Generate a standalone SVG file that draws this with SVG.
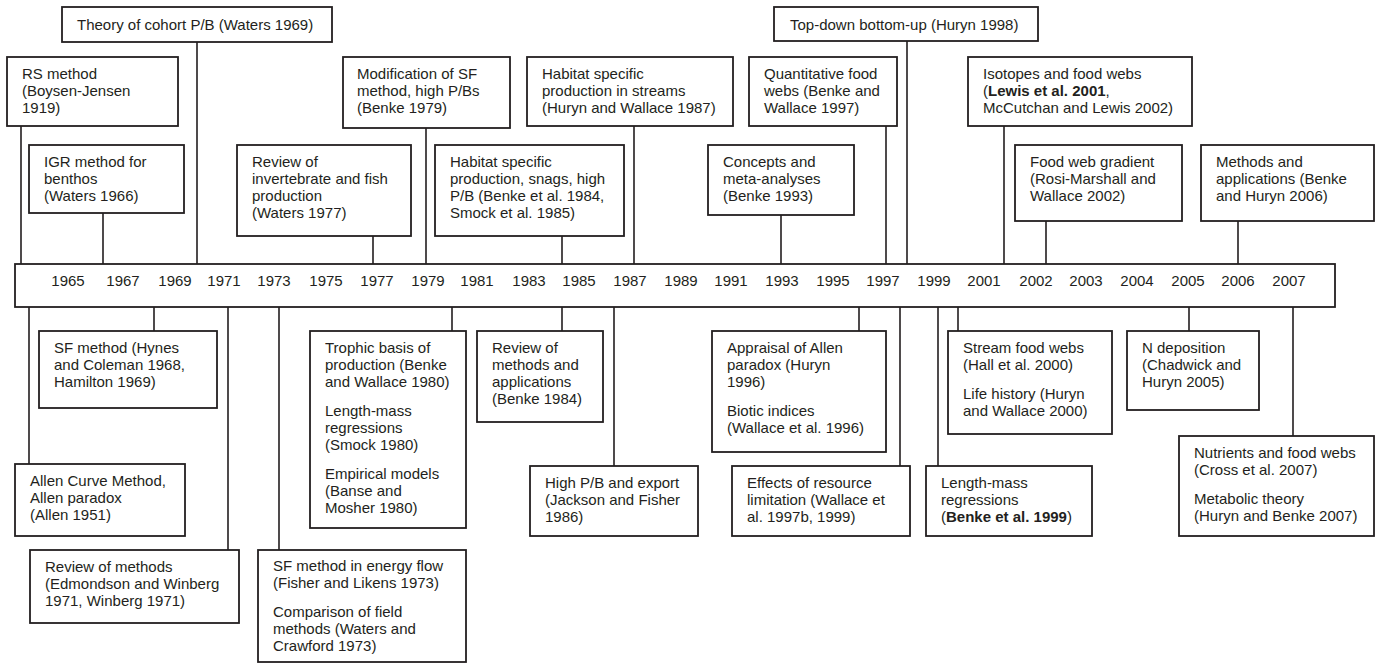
<svg xmlns="http://www.w3.org/2000/svg" width="1378" height="664" viewBox="0 0 1378 664">
<style>
.box{fill:#fff;stroke:#231f20;stroke-width:1.8}
.t{font-family:"Liberation Sans",Arial,Helvetica,sans-serif;font-size:15px;fill:#231f20}
.y{text-anchor:middle}
.b{font-weight:bold}
.c{stroke:#231f20;stroke-width:1.6;fill:none}
</style>
<rect width="1378" height="664" fill="#fff"/>
<g id="connectors">
<path class="c" d="M197 42V264 M21 126V264 M103 213V264 M373 236V264 M426 128V264 M562 236V264 M634 126V264 M886 126V264 M781 215V264 M907 41V264 M1004 126V264 M1046 221V264 M1238 221V264"/>
<path class="c" d="M154 307V331 M29 307V464 M228 307V550 M279 307V550 M452 307V331 M562 307V331 M614 307V466 M859 307V331 M900 307V466 M938 307V466 M958 307V331 M1189 307V331 M1293 307V436"/>
</g>
<g id="timeline">
<rect class="box" x="15" y="264" width="1320" height="43"/>
<g class="t y">
<text x="68" y="286">1965</text><text x="123" y="286">1967</text><text x="175" y="286">1969</text><text x="224" y="286">1971</text><text x="274" y="286">1973</text><text x="326" y="286">1975</text><text x="377" y="286">1977</text><text x="428" y="286">1979</text><text x="477" y="286">1981</text><text x="529" y="286">1983</text><text x="579" y="286">1985</text><text x="630" y="286">1987</text><text x="681" y="286">1989</text><text x="731" y="286">1991</text><text x="782" y="286">1993</text><text x="833" y="286">1995</text><text x="883" y="286">1997</text><text x="934" y="286">1999</text><text x="984" y="286">2001</text><text x="1036" y="286">2002</text><text x="1086" y="286">2003</text><text x="1137" y="286">2004</text><text x="1188" y="286">2005</text><text x="1238" y="286">2006</text><text x="1289" y="286">2007</text>
</g>
</g>
<g id="theory"><rect class="box" x="62" y="7" width="270" height="35"/><text class="t" x="77" y="30">Theory of cohort P/B (Waters 1969)</text></g>
<g id="rs"><rect class="box" x="7" y="57" width="171" height="69"/><text class="t" x="22" y="79">RS method</text><text class="t" x="22" y="96">(Boysen-Jensen</text><text class="t" x="22" y="113">1919)</text></g>
<g id="igr"><rect class="box" x="29" y="145" width="155" height="68"/><text class="t" x="44" y="167">IGR method for</text><text class="t" x="44" y="184">benthos</text><text class="t" x="44" y="201">(Waters 1966)</text></g>
<g id="review-inv"><rect class="box" x="237" y="145" width="174" height="91"/><text class="t" x="252" y="167">Review of</text><text class="t" x="252" y="184">invertebrate and fish</text><text class="t" x="252" y="201">production</text><text class="t" x="252" y="218">(Waters 1977)</text></g>
<g id="modification"><rect class="box" x="343" y="57" width="167" height="71"/><text class="t" x="357" y="79">Modification of SF</text><text class="t" x="357" y="96">method, high P/Bs</text><text class="t" x="357" y="113">(Benke 1979)</text></g>
<g id="habitat-snags"><rect class="box" x="435" y="145" width="189" height="91"/><text class="t" x="450" y="167">Habitat specific</text><text class="t" x="450" y="184">production, snags, high</text><text class="t" x="450" y="201">P/B (Benke et al. 1984,</text><text class="t" x="450" y="218">Smock et al. 1985)</text></g>
<g id="habitat-streams"><rect class="box" x="527" y="57" width="206" height="69"/><text class="t" x="542" y="79">Habitat specific</text><text class="t" x="542" y="96">production in streams</text><text class="t" x="542" y="113">(Huryn and Wallace 1987)</text></g>
<g id="quantitative"><rect class="box" x="749" y="57" width="148" height="69"/><text class="t" x="764" y="79">Quantitative food</text><text class="t" x="764" y="96">webs (Benke and</text><text class="t" x="764" y="113">Wallace 1997)</text></g>
<g id="concepts"><rect class="box" x="708" y="145" width="146" height="70"/><text class="t" x="723" y="167">Concepts and</text><text class="t" x="723" y="184">meta-analyses</text><text class="t" x="723" y="201">(Benke 1993)</text></g>
<g id="topdown"><rect class="box" x="774" y="7" width="264" height="34"/><text class="t" x="790" y="30">Top-down bottom-up (Huryn 1998)</text></g>
<g id="isotopes"><rect class="box" x="968" y="57" width="224" height="69"/><text class="t" x="983" y="79">Isotopes and food webs</text><text class="t" x="983" y="96">(<tspan class="b">Lewis et al. 2001</tspan>,</text><text class="t" x="983" y="113">McCutchan and Lewis 2002)</text></g>
<g id="gradient"><rect class="box" x="1015" y="145" width="167" height="76"/><text class="t" x="1030" y="167">Food web gradient</text><text class="t" x="1030" y="184">(Rosi-Marshall and</text><text class="t" x="1030" y="201">Wallace 2002)</text></g>
<g id="methods-app"><rect class="box" x="1201" y="145" width="173" height="76"/><text class="t" x="1216" y="167">Methods and</text><text class="t" x="1216" y="184">applications (Benke</text><text class="t" x="1216" y="201">and Huryn 2006)</text></g>
<g id="sf-hynes"><rect class="box" x="39" y="331" width="178" height="77"/><text class="t" x="54" y="353">SF method (Hynes</text><text class="t" x="54" y="370">and Coleman 1968,</text><text class="t" x="54" y="387">Hamilton 1969)</text></g>
<g id="allen"><rect class="box" x="15" y="464" width="170" height="72"/><text class="t" x="30" y="486">Allen Curve Method,</text><text class="t" x="30" y="503">Allen paradox</text><text class="t" x="30" y="520">(Allen 1951)</text></g>
<g id="review-methods"><rect class="box" x="30" y="550" width="209" height="73"/><text class="t" x="45" y="572">Review of methods</text><text class="t" x="45" y="589">(Edmondson and Winberg</text><text class="t" x="45" y="606">1971, Winberg 1971)</text></g>
<g id="sf-energy"><rect class="box" x="258" y="550" width="208" height="112"/><text class="t" x="273" y="571">SF method in energy flow</text><text class="t" x="273" y="588">(Fisher and Likens 1973)</text><text class="t" x="273" y="617">Comparison of field</text><text class="t" x="273" y="634">methods (Waters and</text><text class="t" x="273" y="651">Crawford 1973)</text></g>
<g id="trophic"><rect class="box" x="310" y="331" width="156" height="197"/><text class="t" x="325" y="353">Trophic basis of</text><text class="t" x="325" y="370">production (Benke</text><text class="t" x="325" y="387">and Wallace 1980)</text><text class="t" x="325" y="416">Length-mass</text><text class="t" x="325" y="433">regressions</text><text class="t" x="325" y="450">(Smock 1980)</text><text class="t" x="325" y="479">Empirical models</text><text class="t" x="325" y="496">(Banse and</text><text class="t" x="325" y="513">Mosher 1980)</text></g>
<g id="review-ma"><rect class="box" x="477" y="331" width="126" height="91"/><text class="t" x="492" y="353">Review of</text><text class="t" x="492" y="370">methods and</text><text class="t" x="492" y="387">applications</text><text class="t" x="492" y="404">(Benke 1984)</text></g>
<g id="highpb"><rect class="box" x="530" y="466" width="168" height="70"/><text class="t" x="545" y="488">High P/B and export</text><text class="t" x="545" y="505">(Jackson and Fisher</text><text class="t" x="545" y="522">1986)</text></g>
<g id="appraisal"><rect class="box" x="712" y="331" width="174" height="121"/><text class="t" x="727" y="353">Appraisal of Allen</text><text class="t" x="727" y="370">paradox (Huryn</text><text class="t" x="727" y="387">1996)</text><text class="t" x="727" y="416">Biotic indices</text><text class="t" x="727" y="433">(Wallace et al. 1996)</text></g>
<g id="effects"><rect class="box" x="732" y="466" width="178" height="70"/><text class="t" x="747" y="488">Effects of resource</text><text class="t" x="747" y="505">limitation (Wallace et</text><text class="t" x="747" y="522">al. 1997b, 1999)</text></g>
<g id="lengthmass"><rect class="box" x="926" y="466" width="166" height="70"/><text class="t" x="941" y="488">Length-mass</text><text class="t" x="941" y="505">regressions</text><text class="t" x="941" y="522">(<tspan class="b">Benke et al. 1999</tspan>)</text></g>
<g id="streamfood"><rect class="box" x="948" y="331" width="164" height="103"/><text class="t" x="963" y="353">Stream food webs</text><text class="t" x="963" y="370">(Hall et al. 2000)</text><text class="t" x="963" y="399">Life history (Huryn</text><text class="t" x="963" y="416">and Wallace 2000)</text></g>
<g id="ndep"><rect class="box" x="1127" y="331" width="132" height="79"/><text class="t" x="1142" y="353">N deposition</text><text class="t" x="1142" y="370">(Chadwick and</text><text class="t" x="1142" y="387">Huryn 2005)</text></g>
<g id="nutrients"><rect class="box" x="1179" y="436" width="195" height="100"/><text class="t" x="1194" y="458">Nutrients and food webs</text><text class="t" x="1194" y="475">(Cross et al. 2007)</text><text class="t" x="1194" y="504">Metabolic theory</text><text class="t" x="1194" y="521">(Huryn and Benke 2007)</text></g>
</svg>
